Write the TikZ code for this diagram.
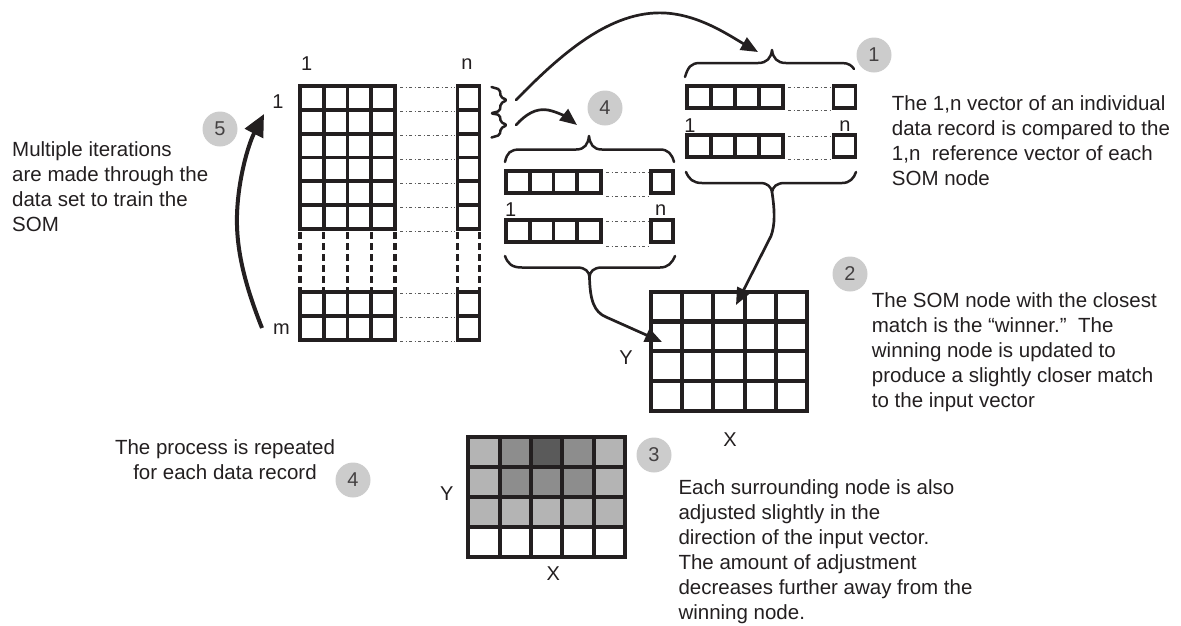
\documentclass[tikz,border=0pt]{standalone}
\usepackage{fontspec}
\setmainfont{Liberation Sans}
\usetikzlibrary{arrows.meta}
\definecolor{ink}{HTML}{231F20}
\definecolor{badgegray}{HTML}{CCCCCC}
\definecolor{lightcell}{HTML}{B4B4B4}
\definecolor{midcell}{HTML}{8D8D8D}
\definecolor{darkcell}{HTML}{5A5A5A}
\definecolor{dotgray}{HTML}{5A5A5A}

% grid of cells: x0, y0, cell width, cell height, columns, rows
\newcommand\gridblock[6]{%
  \foreach \i in {0,...,#5}
    \draw[cellline] ({#1+\i*#3},#2) -- ({#1+\i*#3},{#2+#6*#4});
  \foreach \j in {0,...,#6}
    \draw[cellline] (#1,{#2+\j*#4}) -- ({#1+#5*#3},{#2+\j*#4});
}

\begin{document}
\begin{tikzpicture}[x=1pt,y=-1pt,
  txt/.style={font=\fontsize{20.5}{25}\selectfont, text=ink, inner sep=0pt, align=left, anchor=north west},
  lbl/.style={font=\fontsize{20}{24}\selectfont, text=ink, inner sep=0pt},
  badge/.style={circle, fill=badgegray, minimum size=35pt, inner sep=0pt, font=\fontsize{20}{24}\selectfont, text=ink!85},
  cellline/.style={draw=ink, line width=3.8pt, line cap=rect},
  dots/.style={draw=dotgray, line width=0.9pt, dash pattern=on 3pt off 2.5pt on 1pt off 2.5pt},
  vdash/.style={draw=ink, line width=3.2pt, dash pattern=on 7pt off 4pt},
  brc/.style={draw=ink, line width=2.5pt, line join=round, line cap=round},
  conn/.style={draw=ink, line width=2.7pt, line cap=round, -{Triangle[length=17pt,width=14pt]}},
]
\useasboundingbox (0,0) rectangle (1181,625);

% ---------- data matrix ----------
\gridblock{300}{86}{23.75}{23.83}{4}{6}
\gridblock{457.5}{86}{22}{23.83}{1}{6}
\foreach \x in {300,323.75,347.5,371.25,395,457.5,479.5}
  \draw[vdash] (\x,232) -- (\x,290);
\gridblock{300}{292}{23.75}{24}{4}{2}
\gridblock{457.5}{292}{22}{24}{1}{2}
\foreach \y in {87.5,111.5,135.5,159.5,183.5,207.5,231.5,293.5,317.5,341.5}
  \draw[dots] (400,\y) -- (455,\y);

\node[lbl] (colone) at (306.7,64) {1};
\node[lbl] (coln) at (467,64.5) {n};
\node[lbl] (rowone) at (278,102) {1};
\node[lbl] (rowm) at (281.5,329) {m};

% record braces
\draw[brc, rounded corners=2pt] (491.5,87) -- (500,89.5) -- (500.5,97) -- (507,100) -- (500.5,103.5) -- (500,111) -- (492,113);
\draw[brc, rounded corners=2pt] (492,113.5) -- (500,115) -- (500.5,122) -- (507,125) -- (500.5,128.5) -- (500,135) -- (491.5,137.5);
\coordinate (srcA) at (516,100);
\coordinate (srcB) at (516,125);

% ---------- reference vectors (right) ----------
\gridblock{686.7}{86}{24.15}{22.3}{4}{1}
\gridblock{833.5}{86}{22}{22.3}{1}{1}
\gridblock{686.7}{135}{24.15}{22.3}{4}{1}
\gridblock{833.5}{135}{22}{22.3}{1}{1}
\foreach \y in {87.5,110,136.5,159}
  \draw[dots] (788,\y) -- (831,\y);
\node[lbl] (ronev) at (690,125.5) {1};
\node[lbl] (rnv) at (845,126.5) {n};

\draw[brc] (685,77) .. controls (688,67) and (691,63) .. (700,63) -- (758,63)
  .. controls (767,63) and (771,58) .. (772,50)
  .. controls (773,58) and (777,63) .. (786,63) -- (842,63)
  .. controls (849,63) and (852,66) .. (854,69);
\coordinate (tgtA) at (758,52);
\draw[brc] (686,172) .. controls (689,179) and (693,183) .. (702,183) -- (760,183)
  .. controls (768,183) and (771,187) .. (772,192)
  .. controls (773,187) and (776,183) .. (785,183) -- (842,183)
  .. controls (850,183) and (854,178) .. (856,172);
\coordinate (rtip) at (772,192);

% ---------- reference vectors (middle) ----------
\gridblock{506}{170.7}{23.75}{22}{4}{1}
\gridblock{651}{170.7}{22.3}{22}{1}{1}
\gridblock{506}{220}{23.75}{22}{4}{1}
\gridblock{651}{220}{22.3}{22}{1}{1}
\foreach \y in {172,196.5,221.5,246}
  \draw[dots] (606,\y) -- (648,\y);
\node[lbl] (monev) at (510.7,209.5) {1};
\node[lbl] (mnv) at (660.7,210.5) {n};

\draw[brc] (505,162) .. controls (507,153) and (510,149.5) .. (520,149.5) -- (576,149.5)
  .. controls (585,149.5) and (588,144) .. (589,136)
  .. controls (590,144) and (593,149.5) .. (602,149.5) -- (660,149.5)
  .. controls (668,149.5) and (672,154) .. (674,162);
\coordinate (tgtB) at (577,125);
\draw[brc] (505,256) .. controls (508,264) and (512,267.5) .. (522,267.5) -- (577,267.5)
  .. controls (586,267.5) and (589,272) .. (589.5,277)
  .. controls (590,272) and (593,267.5) .. (602,267.5) -- (660,267.5)
  .. controls (668,267.5) and (672,263) .. (675,256);
\coordinate (midtip) at (589.5,277);

% ---------- SOM grid ----------
\begin{scope}[cellline/.append style={line width=4.2pt}]
  \gridblock{650.7}{291.7}{31.32}{29.83}{5}{4}
\end{scope}
\coordinate (tgtC) at (662,342);
\coordinate (tgtD) at (736,305);
\node[lbl] (somy) at (626,357.3) {Y};
\node[lbl] (somx) at (730,440) {X};

% ---------- updated neighbourhood ----------
\foreach \c/\r/\f in {0/0/lightcell,1/0/midcell,2/0/darkcell,3/0/midcell,4/0/lightcell,
                      0/1/lightcell,1/1/midcell,2/1/midcell,3/1/midcell,4/1/lightcell,
                      0/2/lightcell,1/2/lightcell,2/2/lightcell,3/2/lightcell,4/2/lightcell}
  \fill[\f] ({468.3+\c*31.34},{436.7+\r*30}) rectangle ++(31.34,30);
\begin{scope}[cellline/.append style={line width=4.2pt}]
  \gridblock{468.3}{436.7}{31.34}{30}{5}{4}
\end{scope}
\node[lbl] (nby) at (446.7,494) {Y};
\node[lbl] (nbx) at (553.3,573.3) {X};

% ---------- connectors ----------
\draw[conn] (srcA) .. controls (560,55) and (610,10) .. (665,13)
  .. controls (700,15) and (730,36) .. (tgtA);
\draw[conn] (srcB) .. controls (526,114) and (536,108) .. (548,110)
  .. controls (558,112) and (568,118) .. (tgtB);
\draw[conn] (midtip) .. controls (590,300) and (594,312) .. (606,317) -- (tgtC);
\draw[conn] (rtip) .. controls (775,212) and (775,225) .. (771,236) -- (tgtD);

\coordinate (loopfoot) at (262,328);
\coordinate (looptop) at (264,114);
\draw[draw=ink, line width=4pt, -{Triangle[length=22pt,width=20pt]}]
  (loopfoot) .. controls (245,285) and (236,250) .. (237,215)
  .. controls (238,180) and (248,145) .. (looptop);

% ---------- step badges ----------
\node[badge] (c1) at (874,55) {1};
\node[badge] (c4a) at (605,108) {4};
\node[badge] (c5) at (220,129) {5};
\node[badge] (c2) at (850,274) {2};
\node[badge] (c3) at (654,455) {3};
\node[badge] (c4b) at (353,480) {4};

% ---------- captions ----------
\node[txt] (t5) at (12,141) {Multiple iterations\\are made through the\\data set to train the\\SOM};
\node[txt] (t1) at (891.7,95.3) {The 1,n vector of an individual\\data record is compared to the\\1,n\ \ reference vector of each\\SOM node};
\node[txt] (t2) at (871.7,292.4) {The SOM node with the closest\\match is the “winner.”\ \ The\\winning node is updated to\\produce a slightly closer match\\to the input vector};
\node[txt] (t3) at (678.3,479.2) {Each surrounding node is also\\adjusted slightly in the\\direction of the input vector.\\The amount of adjustment\\decreases further away from the\\winning node.};
\node[txt, align=center, anchor=north] (t4) at (225,439) {The process is repeated\\for each data record};
\end{tikzpicture}
\end{document}
